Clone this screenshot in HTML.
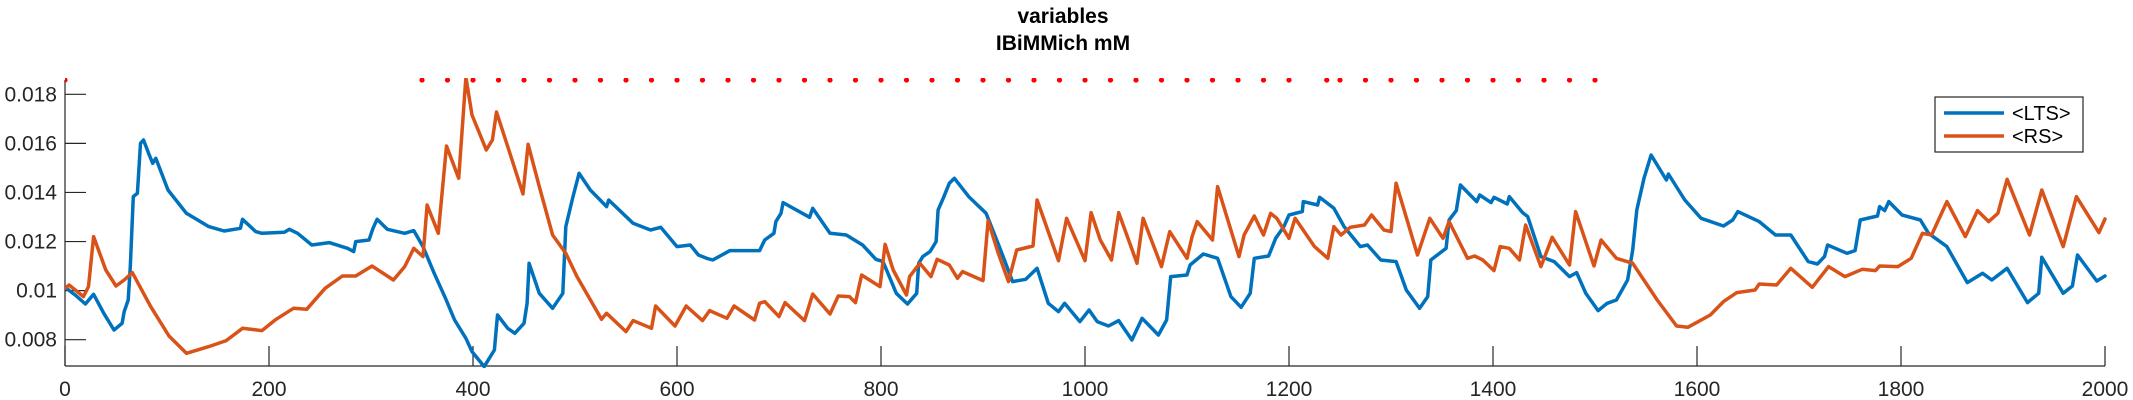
<!DOCTYPE html>
<html><head><meta charset="utf-8"><style>
html,body{margin:0;padding:0;background:#fff;}
svg{display:block;font-family:"Liberation Sans Narrow","Liberation Sans",sans-serif;}
</style></head><body>
<svg id="chart" width="2133" height="400" viewBox="0 0 2133 400" xmlns="http://www.w3.org/2000/svg">
<defs><clipPath id="plotclip"><rect x="65" y="78" width="2042" height="290"/></clipPath></defs>
<g font-family="Liberation Sans, sans-serif" font-weight="bold" font-size="21" fill="#000" text-anchor="middle">
<text x="1063" y="23">variables</text>
<text x="1063" y="50">IBiMMich mM</text>
</g>
<g id="axes"></g>
<g id="marks" clip-path="url(#plotclip)"></g>
<g>
<rect x="1935" y="97" width="148" height="55" fill="#fff" stroke="#262626" stroke-width="1.2"/>
<line x1="1944" y1="113" x2="2004" y2="113" stroke="#0072BD" stroke-width="3.5"/>
<text x="2012" y="120" font-size="20" fill="#000">&lt;LTS&gt;</text>
<line x1="1944" y1="136" x2="2004" y2="136" stroke="#D95319" stroke-width="3.5"/>
<text x="2012" y="143" font-size="20" fill="#000">&lt;RS&gt;</text>
</g>
</svg>
<script>
const xTicks=[0,200,400,600,800,1000,1200,1400,1600,2000-200,2000];
const yTicks=[0.008,0.01,0.012,0.014,0.016,0.018];
const yTickLabels=["0.008","0.01","0.012","0.014","0.016","0.018"];
const ltsX=[0,10,20,28,38,48,56,58,62,64,67,71,74,77,82,86,89,101,119,141,156,172,174,187,193,215,220,228,242,259,277,283,285,298,302,306,316,333,342,351,362,373,382,393,399,411,421,424,434,441,450,453,455,465,478,488,491,498,504,515,531,533,557,574,584,600,613,621,629,635,652,681,686,695,697,702,704,730,733,750,766,782,795,802,815,826,835,837,841,848,854,856,861,867,872,886,903,916,929,942,953,964,974,980,995,1004,1012,1023,1033,1046,1056,1072,1080,1084,1100,1103,1116,1130,1143,1153,1162,1166,1180,1187,1195,1200,1213,1214,1228,1230,1244,1254,1270,1277,1290,1305,1315,1328,1336,1339,1354,1357,1364,1368,1384,1387,1398,1401,1414,1416,1429,1434,1447,1460,1475,1482,1491,1503,1512,1521,1532,1537,1541,1548,1555,1570,1572,1588,1604,1626,1635,1640,1661,1677,1692,1709,1718,1725,1728,1747,1755,1760,1777,1779,1784,1788,1801,1819,1827,1845,1865,1880,1889,1904,1924,1935,1938,1959,1968,1973,1992,2000];
const ltsY=[10.135,9.823,9.456,9.850,9.076,8.397,8.668,9.144,9.619,10.978,13.830,13.966,16.003,16.139,15.596,15.188,15.392,14.102,13.151,12.608,12.431,12.540,12.906,12.404,12.336,12.377,12.499,12.336,11.860,11.956,11.725,11.589,11.996,12.064,12.540,12.906,12.499,12.336,12.445,11.793,10.706,9.687,8.804,8.057,7.514,6.903,7.582,9.008,8.465,8.261,8.668,9.483,11.113,9.891,9.280,9.891,12.608,13.830,14.781,14.102,13.423,13.694,12.743,12.471,12.580,11.793,11.860,11.453,11.317,11.249,11.630,11.630,12.064,12.336,12.811,13.151,13.585,12.988,13.355,12.336,12.268,11.860,11.276,11.181,9.891,9.456,9.891,11.113,11.385,11.589,11.996,13.287,13.762,14.373,14.577,13.830,13.151,11.793,10.366,10.461,10.910,9.483,9.144,9.483,8.736,9.212,8.736,8.560,8.777,7.989,8.872,8.193,8.804,10.570,10.638,11.045,11.494,11.317,9.755,9.320,9.891,11.317,11.412,12.132,12.608,13.083,13.219,13.626,13.490,13.803,13.355,12.608,11.793,11.860,11.249,11.181,10.027,9.280,9.755,11.249,11.725,12.879,13.260,14.305,13.626,13.898,13.585,13.803,13.531,13.830,13.178,13.015,11.385,11.181,10.570,10.733,9.891,9.185,9.483,9.619,10.434,11.657,13.287,14.577,15.528,14.509,14.754,13.694,12.947,12.635,12.879,13.219,12.811,12.268,12.268,11.181,11.086,11.385,11.860,11.521,11.630,12.879,13.042,13.423,13.260,13.626,13.083,12.879,12.336,11.793,10.326,10.706,10.434,10.910,9.511,9.891,11.358,9.891,10.190,11.453,10.393,10.597];
const rsX=[0,4,18,23,28,40,50,58,66,84,102,119,141,158,174,193,207,224,237,255,272,285,301,322,333,342,351,355,366,374,386,393,399,413,419,423,432,449,454,465,478,491,502,526,531,550,557,575,579,598,609,625,632,649,656,676,681,686,700,706,725,733,750,758,769,775,781,799,804,812,825,828,838,849,855,867,875,880,900,905,915,925,933,949,953,974,982,1000,1006,1015,1026,1033,1051,1057,1075,1083,1100,1105,1110,1125,1130,1151,1156,1166,1175,1182,1188,1200,1206,1225,1238,1244,1251,1260,1274,1281,1293,1300,1305,1326,1338,1351,1357,1375,1382,1390,1401,1407,1416,1426,1432,1447,1458,1475,1481,1499,1506,1521,1537,1561,1580,1591,1613,1626,1639,1657,1661,1678,1692,1713,1729,1745,1762,1775,1779,1797,1810,1821,1830,1845,1863,1875,1886,1895,1904,1926,1938,1959,1972,1994,2000];
const rsY=[10.095,10.231,9.755,10.163,12.200,10.842,10.190,10.434,10.733,9.348,8.152,7.446,7.718,7.962,8.465,8.370,8.831,9.280,9.239,10.095,10.597,10.597,11.005,10.434,10.978,11.725,11.385,13.490,12.336,15.895,14.577,18.693,17.158,15.732,16.139,17.280,16.139,13.939,15.963,14.238,12.268,11.521,10.570,8.831,9.076,8.329,8.777,8.465,9.374,8.560,9.374,8.777,9.185,8.872,9.374,8.804,9.483,9.551,8.940,9.510,8.777,9.864,9.049,9.782,9.755,9.510,10.638,10.163,11.888,10.842,9.823,10.570,11.113,10.570,11.276,11.045,10.502,10.774,10.407,12.852,11.521,10.366,11.657,11.820,13.694,11.218,12.947,11.218,13.178,12.064,11.249,13.178,11.113,12.947,10.978,12.404,11.317,12.200,12.811,12.064,14.238,11.385,12.268,13.042,12.268,13.151,12.947,12.132,12.947,11.793,11.317,12.608,12.268,12.580,12.675,13.083,12.471,12.404,14.373,11.453,12.947,12.132,12.811,11.317,11.412,11.249,10.815,11.793,11.725,11.249,12.675,10.978,12.173,11.045,13.219,11.005,12.064,11.317,11.113,9.619,8.560,8.506,9.008,9.551,9.918,10.027,10.271,10.231,10.910,10.135,10.978,10.570,10.869,10.815,11.005,10.978,11.317,12.336,12.268,13.626,12.200,13.260,12.811,13.151,14.536,12.268,14.102,11.793,13.830,12.363,12.920];
const markerX=[0,350,375,400,425,450,475,500,525,550,575,600,625,650,675,700,725,750,775,800,825,850,875,900,925,950,975,1000,1025,1050,1075,1100,1125,1150,1175,1200,1237,1250,1275,1300,1325,1350,1375,1400,1425,1450,1475,1500];
const markerLevel=0.01858;

const NS="http://www.w3.org/2000/svg";
const X0=65,X1=2105,XMAX=2000;
function sx(v){return X0+(v/XMAX)*(X1-X0);}
function sy(v){return 94.3+(0.018-v)*24540;}
function mk(tag,attrs,parent){const e=document.createElementNS(NS,tag);for(const k in attrs)e.setAttribute(k,attrs[k]);parent.appendChild(e);return e;}
const axes=document.getElementById('axes');
const marks=document.getElementById('marks');
const c="#262626";
let el=mk('line',{x1:X0,y1:80,x2:X0,y2:366,stroke:c,'stroke-width':1.2},axes);


el=mk('line',{x1:X0,y1:366,x2:X1,y2:366,stroke:c,'stroke-width':1.2},axes);


xTicks.forEach(t=>{
 const x=sx(t);
 const l=mk('line',{x1:x,y1:366,x2:x,y2:346,stroke:c,'stroke-width':1.2},axes);
 
 
 const tx=mk('text',{x:x,y:396,'font-size':21,fill:c,'text-anchor':'middle'},axes);
 tx.textContent=String(t);
 
 
});
yTicks.forEach((t,i)=>{
 const y=sy(t);
 const l=mk('line',{x1:X0,y1:y,x2:X0+21,y2:y,stroke:c,'stroke-width':1.2},axes);
 
 
 const tx=mk('text',{x:57,y:y+7,'font-size':21,fill:c,'text-anchor':'end'},axes);
 tx.textContent=yTickLabels[i];
 
 
});
function pathOf(xs,ys){return xs.map((x,i)=>(i?'L':'M')+sx(x).toFixed(1)+','+sy(ys[i]/1000).toFixed(1)).join(' ');}
const p1=mk('path',{d:pathOf(ltsX,ltsY),fill:'none',stroke:'#0072BD','stroke-width':3.5,'stroke-linejoin':'round','stroke-linecap':'round'},marks);


const p2=mk('path',{d:pathOf(rsX,rsY),fill:'none',stroke:'#D95319','stroke-width':3.5,'stroke-linejoin':'round','stroke-linecap':'round'},marks);


markerX.forEach(m=>{
 const d=mk('circle',{cx:sx(m),cy:sy(markerLevel),r:2.6,fill:'#FF0000'},marks);
 
 
});
</script>
</body></html>
